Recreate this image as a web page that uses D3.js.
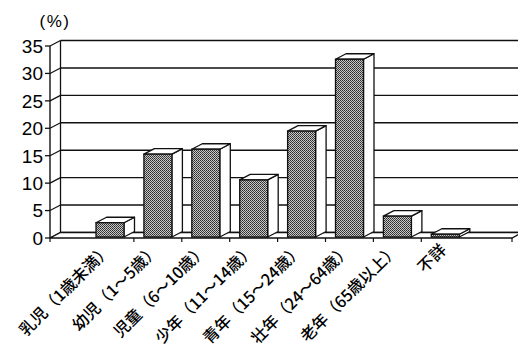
<!DOCTYPE html>
<html>
<head>
<meta charset="utf-8">
<script src="https://cdn.jsdelivr.net/npm/d3@7"></script>
<style>
  html, body { margin: 0; padding: 0; background: #fff; }
  svg { display: block; }
</style>
</head>
<body>
<svg id="chart" width="518" height="353"></svg>
<script>
// ---- data ----
const categories = ["乳児（1歳未満）", "幼児（1～5歳）", "児童（6～10歳）", "少年（11～14歳）",
                    "青年（15～24歳）", "壮年（24～64歳）", "老年（65歳以上）", "不詳"];
const values = [2.6, 15.1, 16.0, 10.4, 19.3, 32.4, 3.8, 0.5];
const yTicks = [0, 5, 10, 15, 20, 25, 30, 35];
const unitLabel = "(%)";

// ---- layout ----
const svg = d3.select("#chart");
const depthX = 10.5, depthY = -5.5;
const axisLeft = 50, floorRight = 512;
const y = d3.scaleLinear().domain([0, 35]).range([238, 46]);
const x = d3.scaleBand().domain(categories).range([86, 469.2]).padding(0);
const barOffset = 10, barW = 28;
const lineColor = "#111";

const defs = svg.append("defs");
const pat = defs.append("pattern").attr("id", "halftone")
  .attr("patternUnits", "userSpaceOnUse").attr("width", 2).attr("height", 2);
pat.append("rect").attr("width", 2).attr("height", 2).attr("fill", "#c8c8c8");
pat.append("rect").attr("x", 0).attr("y", 0).attr("width", 1).attr("height", 1).attr("fill", "#2a2a2a");
pat.append("rect").attr("x", 1).attr("y", 1).attr("width", 1).attr("height", 1).attr("fill", "#444");

const g = svg.append("g");

// back wall gridlines
g.selectAll("line.grid").data(yTicks).join("line")
  .attr("class", "grid")
  .attr("x1", axisLeft + depthX).attr("x2", 520)
  .attr("y1", d => y(d) + depthY).attr("y2", d => y(d) + depthY)
  .attr("stroke", lineColor).attr("stroke-width", 1.4);

// left wall back edge
g.append("line")
  .attr("x1", axisLeft + depthX).attr("x2", axisLeft + depthX)
  .attr("y1", y(0) + depthY).attr("y2", y(35) + depthY)
  .attr("stroke", lineColor).attr("stroke-width", 1.3);

// left wall connectors
g.selectAll("line.wall").data(yTicks).join("line")
  .attr("class", "wall")
  .attr("x1", axisLeft).attr("x2", axisLeft + depthX)
  .attr("y1", d => y(d)).attr("y2", d => y(d) + depthY)
  .attr("stroke", lineColor).attr("stroke-width", 1.2);

// floor
g.append("path")
  .attr("d", `M${axisLeft},${y(0)} L${floorRight},${y(0)} L${floorRight + depthX},${y(0) + depthY} L${axisLeft + depthX},${y(0) + depthY} Z`)
  .attr("fill", "#fff").attr("stroke", lineColor).attr("stroke-width", 1.3);

// front y axis
g.append("line")
  .attr("x1", axisLeft).attr("x2", axisLeft)
  .attr("y1", y(0)).attr("y2", y(35))
  .attr("stroke", lineColor).attr("stroke-width", 1.4);
g.selectAll("line.ytick").data(yTicks).join("line")
  .attr("class", "ytick")
  .attr("x1", axisLeft - 5).attr("x2", axisLeft)
  .attr("y1", d => y(d)).attr("y2", d => y(d))
  .attr("stroke", lineColor).attr("stroke-width", 1.3);
g.selectAll("text.ylab").data(yTicks).join("text")
  .attr("class", "ylab")
  .attr("x", 43).attr("y", d => y(d))
  .attr("dy", "0.36em")
  .attr("text-anchor", "end")
  .attr("font-family", "Liberation Sans, Arial, sans-serif")
  .attr("font-size", 19)
  .attr("fill", "#000")
  .text(d => d);

// unit label
g.append("text")
  .attr("x", 55).attr("y", 27)
  .attr("text-anchor", "middle")
  .attr("font-family", "Liberation Sans, Arial, sans-serif")
  .attr("font-size", 17)
  .attr("letter-spacing", 1.5)
  .attr("fill", "#000")
  .text(unitLabel);

// category ticks
const tickXs = [axisLeft, ...categories.slice(1).map(c => x(c)), floorRight];
g.selectAll("line.xtick").data(tickXs).join("line")
  .attr("class", "xtick")
  .attr("x1", d => d).attr("x2", d => d)
  .attr("y1", y(0)).attr("y2", y(0) + 4)
  .attr("stroke", lineColor).attr("stroke-width", 1.2);

// bars
const bars = g.selectAll("g.bar").data(categories.map((c, i) => ({ c, v: values[i] }))).join("g")
  .attr("class", "bar");
const bx = d => x(d.c) + barOffset;
const bTop = d => y(d.v) - 1;
const bBot = () => y(0) - 1;

bars.append("path")
  .attr("d", d => {
    const x0 = bx(d) + barW;
    return `M${x0},${bTop(d)} L${x0 + depthX},${bTop(d) + depthY} L${x0 + depthX},${bBot() + depthY} L${x0},${bBot()} Z`;
  })
  .attr("fill", "#fff").attr("stroke", lineColor).attr("stroke-width", 1.3).attr("stroke-linejoin", "round");
bars.append("path")
  .attr("d", d => {
    const x0 = bx(d), t = bTop(d);
    return `M${x0},${t} L${x0 + depthX},${t + depthY} L${x0 + barW + depthX},${t + depthY} L${x0 + barW},${t} Z`;
  })
  .attr("fill", "#fff").attr("stroke", lineColor).attr("stroke-width", 1.3).attr("stroke-linejoin", "round");
bars.append("rect")
  .attr("x", bx).attr("y", bTop)
  .attr("width", barW).attr("height", d => bBot() - bTop(d))
  .attr("fill", "url(#halftone)").attr("stroke", lineColor).attr("stroke-width", 1.3);

// category labels
g.selectAll("text.xlab").data(categories).join("text")
  .attr("class", "xlab")
  .attr("transform", c => `translate(${x(c) + x.bandwidth() / 2 + 2},251) rotate(-45)`)
  .attr("text-anchor", "end")
  .attr("font-family", "'Noto Sans CJK JP', sans-serif")
  .attr("font-size", 16)
  .attr("font-weight", 500)
  .attr("fill", "#000")
  .text(c => c);
</script>
</body>
</html>
